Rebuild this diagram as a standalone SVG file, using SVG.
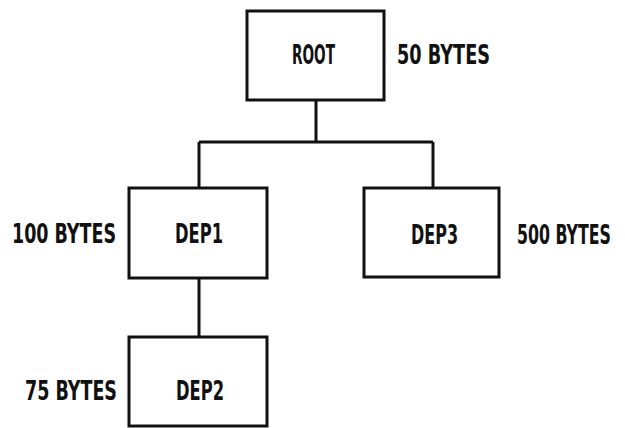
<svg xmlns="http://www.w3.org/2000/svg" width="625" height="428" viewBox="0 0 625 428">
<style>
rect.box{fill:#fff;stroke:#111;stroke-width:3}
.conn{fill:none;stroke:#111;stroke-width:3}
text{font-family:"DejaVu Sans Condensed","DejaVu Sans",sans-serif;font-weight:bold;font-size:26px;fill:#111}
</style>
<rect width="625" height="428" fill="#fff"/>
<g id="connectors">
<path class="conn" d="M316,100 V142 M199,142 H433 M199,142 V188 M433,142 V188 M199,278 V337"/>
</g>
<g id="root">
<rect class="box" x="247" y="11" width="137" height="89"/>
<text x="292" y="64" textLength="43" lengthAdjust="spacingAndGlyphs">ROOT</text>
<text x="397" y="64" textLength="93" lengthAdjust="spacingAndGlyphs">50 BYTES</text>
</g>
<g id="dep1">
<rect class="box" x="129" y="188" width="138" height="90"/>
<text x="175" y="243" textLength="48" lengthAdjust="spacingAndGlyphs">DEP1</text>
<text x="12" y="243" textLength="104" lengthAdjust="spacingAndGlyphs">100 BYTES</text>
</g>
<g id="dep3">
<rect class="box" x="364" y="188" width="135" height="89"/>
<text x="411" y="244" textLength="47" lengthAdjust="spacingAndGlyphs">DEP3</text>
<text transform="translate(517,244) scale(0.67,1)" x="0" y="0" textLength="140" lengthAdjust="spacingAndGlyphs">500 BYTES</text>
</g>
<g id="dep2">
<rect class="box" x="129" y="337" width="138" height="89"/>
<text x="176" y="400" textLength="48" lengthAdjust="spacingAndGlyphs">DEP2</text>
<text x="25" y="400" textLength="92" lengthAdjust="spacingAndGlyphs">75 BYTES</text>
</g>
</svg>
